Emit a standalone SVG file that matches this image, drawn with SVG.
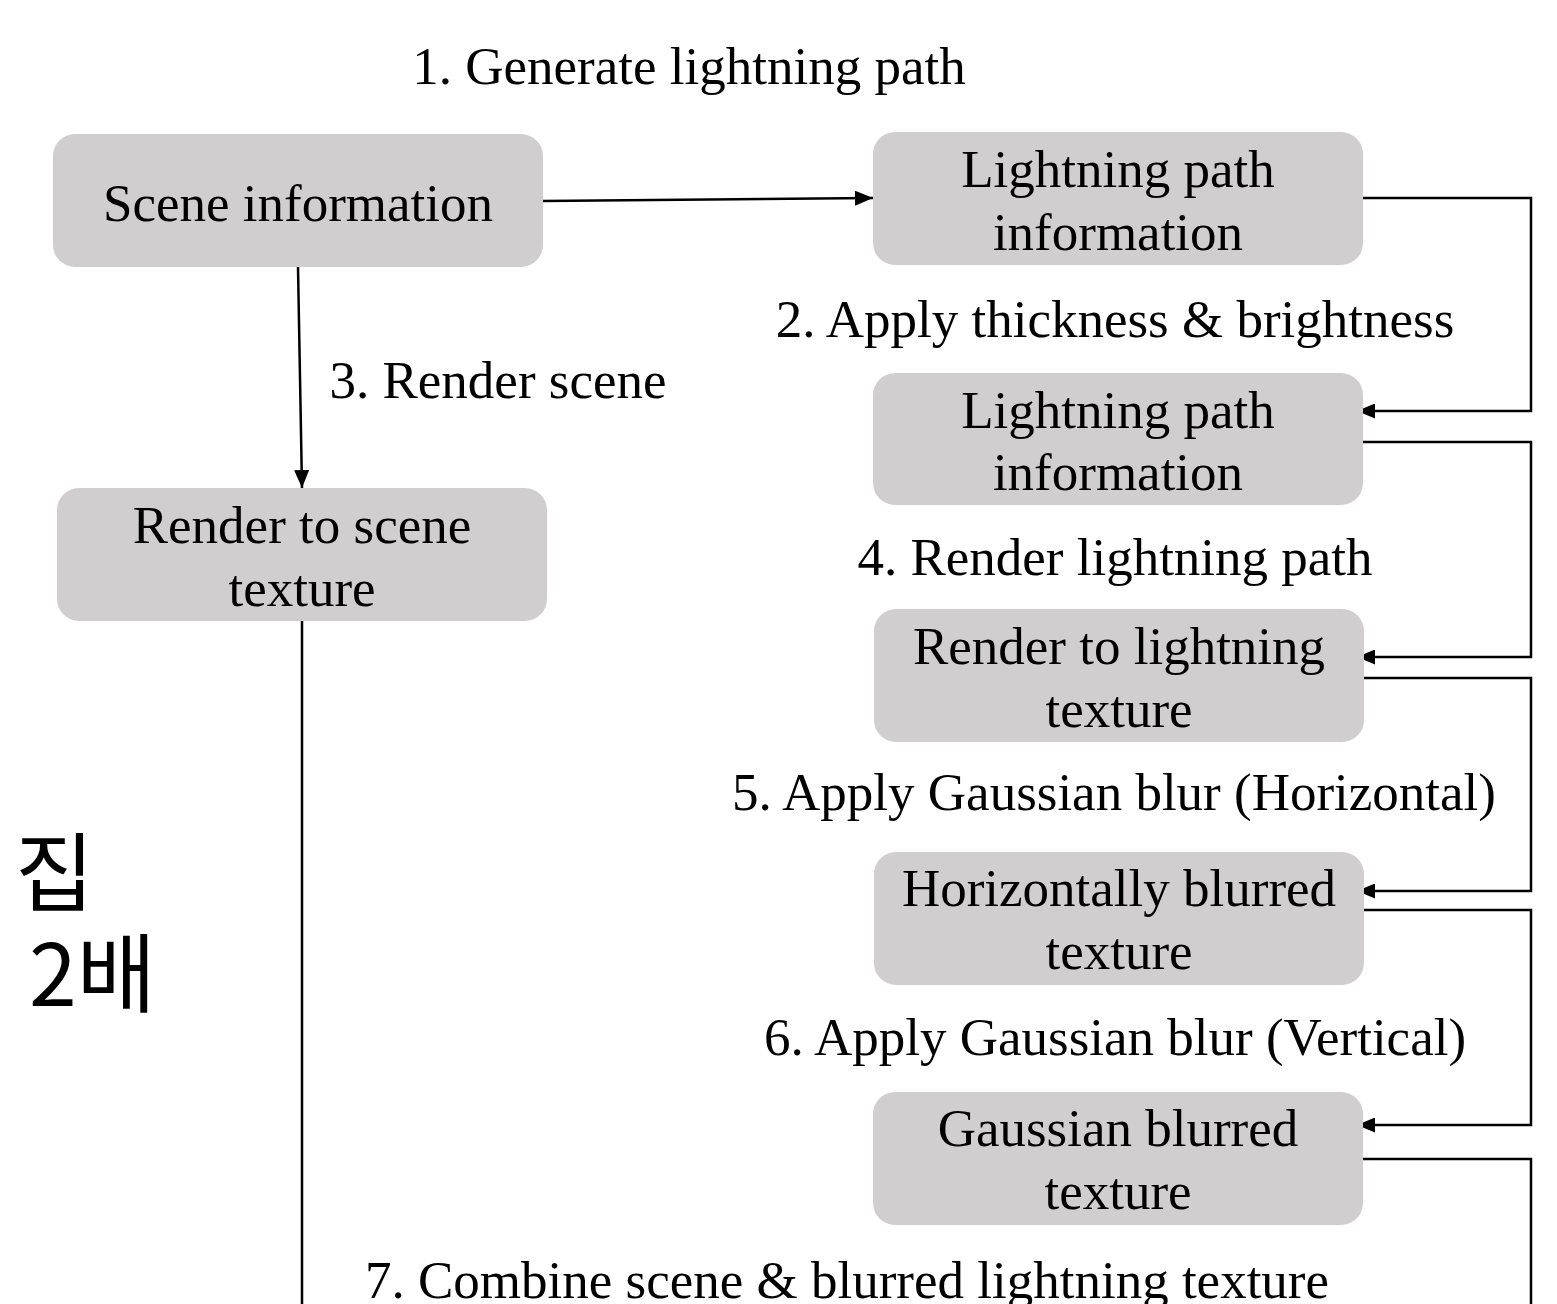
<svg xmlns="http://www.w3.org/2000/svg" width="1557" height="1304" viewBox="0 0 1557 1304">
<style>
.box{fill:#d0cecf;}
.t{font-family:"Liberation Serif","Times New Roman",serif;font-size:53px;fill:#000;text-anchor:middle;}
.k{font-family:"Noto Sans CJK KR","Noto Sans",sans-serif;font-size:86px;font-weight:400;fill:#000;}
.c{fill:none;stroke:#000;stroke-width:2.5;}
</style>
<defs>
<marker id="ah" markerWidth="18" markerHeight="15" refX="18" refY="7.5" orient="auto" markerUnits="userSpaceOnUse">
<path d="M0,0 L18,7.5 L0,15 Z" fill="#000"/>
</marker>
</defs>
<rect width="1557" height="1304" fill="#fff"/>
<g id="connectors">
<path class="c" d="M543,201 L873,198" marker-end="url(#ah)"/>
<path class="c" d="M298,267 L302,488" marker-end="url(#ah)"/>
<path class="c" d="M302,621 L302,1304"/>
<path class="c" d="M1363,198 L1531,198 L1531,411 L1357,411" marker-end="url(#ah)"/>
<path class="c" d="M1363,442 L1531,442 L1531,657 L1357,657" marker-end="url(#ah)"/>
<path class="c" d="M1364,678 L1531,678 L1531,891 L1357,891" marker-end="url(#ah)"/>
<path class="c" d="M1364,910 L1531,910 L1531,1125 L1357,1125" marker-end="url(#ah)"/>
<path class="c" d="M1363,1159 L1531,1159 L1531,1304"/>
</g>
<g id="scene-info">
<rect class="box" x="53" y="134" width="490" height="133" rx="22"/>
<text class="t" x="298" y="221">Scene information</text>
</g>
<g id="lp-info-1">
<rect class="box" x="873" y="132" width="490" height="133" rx="22"/>
<text class="t" x="1118" y="187">Lightning path</text>
<text class="t" x="1118" y="250">information</text>
</g>
<g id="lp-info-2">
<rect class="box" x="873" y="373" width="490" height="132" rx="22"/>
<text class="t" x="1118" y="428">Lightning path</text>
<text class="t" x="1118" y="490">information</text>
</g>
<g id="render-scene">
<rect class="box" x="57" y="488" width="490" height="133" rx="22"/>
<text class="t" x="302" y="543">Render to scene</text>
<text class="t" x="302" y="606">texture</text>
</g>
<g id="render-lightning">
<rect class="box" x="874" y="609" width="490" height="133" rx="22"/>
<text class="t" x="1119" y="664">Render to lightning</text>
<text class="t" x="1119" y="727">texture</text>
</g>
<g id="h-blur">
<rect class="box" x="874" y="852" width="490" height="133" rx="22"/>
<text class="t" x="1119" y="906">Horizontally blurred</text>
<text class="t" x="1119" y="969">texture</text>
</g>
<g id="g-blur">
<rect class="box" x="873" y="1092" width="490" height="133" rx="22"/>
<text class="t" x="1118" y="1146">Gaussian blurred</text>
<text class="t" x="1118" y="1209">texture</text>
</g>
<g id="labels">
<text class="t" x="689" y="84">1. Generate lightning path</text>
<text class="t" x="1115" y="337">2. Apply thickness &amp; brightness</text>
<text class="t" x="498" y="398">3. Render scene</text>
<text class="t" x="1115" y="575">4. Render lightning path</text>
<text class="t" x="1114" y="810">5. Apply Gaussian blur (Horizontal)</text>
<text class="t" x="1115" y="1055">6. Apply Gaussian blur (Vertical)</text>
<text class="t" x="847" y="1298">7. Combine scene &amp; blurred lightning texture</text>
<text class="k" x="15" y="905">집</text>
<text class="k" x="29" y="1006">2배</text>
</g>
</svg>
